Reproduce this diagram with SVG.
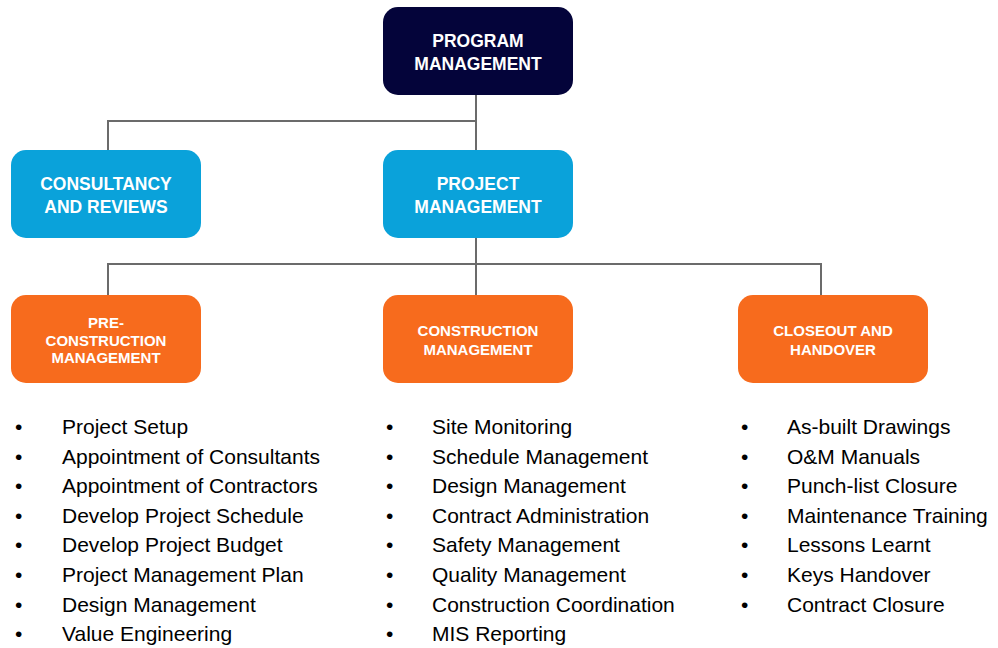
<svg xmlns="http://www.w3.org/2000/svg" width="998" height="648" viewBox="0 0 998 648">
<style>
.navy{fill:#04043a}
.blue{fill:#0aa2da}
.orange{fill:#f76b1d}
.lbl{font-family:"Liberation Sans",Arial,sans-serif;font-weight:bold;fill:#ffffff;text-anchor:middle}
.big{font-size:17.5px}
.small{font-size:15px}
.conn{stroke:#6b6b6b;stroke-width:2;fill:none}
.item{font-family:"Liberation Sans",Arial,sans-serif;font-size:21px;fill:#000000}
</style>
<rect width="998" height="648" fill="#ffffff"/>
<g id="connectors">
<path class="conn" d="M476 95 V150 M108 150 V121 H476"/>
<path class="conn" d="M476 238 V295 M108 295 V264 H821 V295"/>
</g>
<g id="program-management">
<rect class="navy" x="383" y="7" width="190" height="88" rx="15"/>
<text class="lbl big" x="478" y="47">PROGRAM</text>
<text class="lbl big" x="478" y="70">MANAGEMENT</text>
</g>
<g id="consultancy">
<rect class="blue" x="11" y="150" width="190" height="88" rx="15"/>
<text class="lbl big" x="106" y="190">CONSULTANCY</text>
<text class="lbl big" x="106" y="213">AND REVIEWS</text>
</g>
<g id="project-management">
<rect class="blue" x="383" y="150" width="190" height="88" rx="15"/>
<text class="lbl big" x="478" y="190">PROJECT</text>
<text class="lbl big" x="478" y="213">MANAGEMENT</text>
</g>
<g id="pre-construction">
<rect class="orange" x="11" y="295" width="190" height="88" rx="15"/>
<text class="lbl small" x="106" y="328">PRE-</text>
<text class="lbl small" x="106" y="345.5">CONSTRUCTION</text>
<text class="lbl small" x="106" y="363">MANAGEMENT</text>
</g>
<g id="construction">
<rect class="orange" x="383" y="295" width="190" height="88" rx="15"/>
<text class="lbl small" x="478" y="336">CONSTRUCTION</text>
<text class="lbl small" x="478" y="355">MANAGEMENT</text>
</g>
<g id="closeout">
<rect class="orange" x="738" y="295" width="190" height="88" rx="15"/>
<text class="lbl small" x="833" y="336">CLOSEOUT AND</text>
<text class="lbl small" x="833" y="355">HANDOVER</text>
</g>
<g id="list-pre">
<text class="item" x="15" y="434">•</text><text class="item" x="62" y="434">Project Setup</text>
<text class="item" x="15" y="463.6">•</text><text class="item" x="62" y="463.6">Appointment of Consultants</text>
<text class="item" x="15" y="493.2">•</text><text class="item" x="62" y="493.2">Appointment of Contractors</text>
<text class="item" x="15" y="522.8">•</text><text class="item" x="62" y="522.8">Develop Project Schedule</text>
<text class="item" x="15" y="552.4">•</text><text class="item" x="62" y="552.4">Develop Project Budget</text>
<text class="item" x="15" y="582">•</text><text class="item" x="62" y="582">Project Management Plan</text>
<text class="item" x="15" y="611.6">•</text><text class="item" x="62" y="611.6">Design Management</text>
<text class="item" x="15" y="641.2">•</text><text class="item" x="62" y="641.2">Value Engineering</text>
</g>
<g id="list-construction">
<text class="item" x="386" y="434">•</text><text class="item" x="432" y="434">Site Monitoring</text>
<text class="item" x="386" y="463.6">•</text><text class="item" x="432" y="463.6">Schedule Management</text>
<text class="item" x="386" y="493.2">•</text><text class="item" x="432" y="493.2">Design Management</text>
<text class="item" x="386" y="522.8">•</text><text class="item" x="432" y="522.8">Contract Administration</text>
<text class="item" x="386" y="552.4">•</text><text class="item" x="432" y="552.4">Safety Management</text>
<text class="item" x="386" y="582">•</text><text class="item" x="432" y="582">Quality Management</text>
<text class="item" x="386" y="611.6">•</text><text class="item" x="432" y="611.6">Construction Coordination</text>
<text class="item" x="386" y="641.2">•</text><text class="item" x="432" y="641.2">MIS Reporting</text>
</g>
<g id="list-closeout">
<text class="item" x="741" y="434">•</text><text class="item" x="787" y="434">As-built Drawings</text>
<text class="item" x="741" y="463.6">•</text><text class="item" x="787" y="463.6">O&amp;M Manuals</text>
<text class="item" x="741" y="493.2">•</text><text class="item" x="787" y="493.2">Punch-list Closure</text>
<text class="item" x="741" y="522.8">•</text><text class="item" x="787" y="522.8">Maintenance Training</text>
<text class="item" x="741" y="552.4">•</text><text class="item" x="787" y="552.4">Lessons Learnt</text>
<text class="item" x="741" y="582">•</text><text class="item" x="787" y="582">Keys Handover</text>
<text class="item" x="741" y="611.6">•</text><text class="item" x="787" y="611.6">Contract Closure</text>
</g>
</svg>
